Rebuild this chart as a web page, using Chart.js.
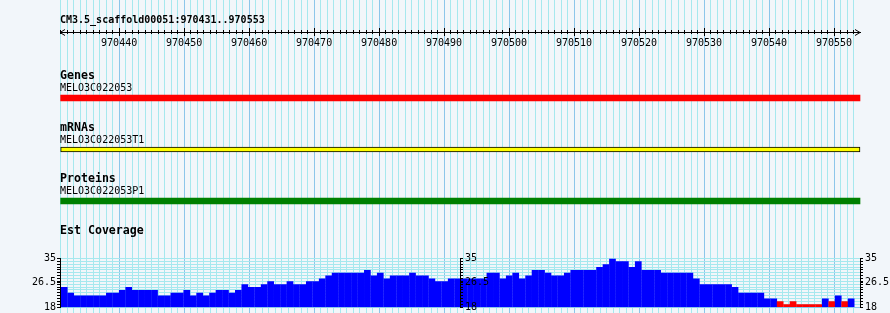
<!DOCTYPE html>
<html><head><meta charset="utf-8">
<script src="https://cdn.jsdelivr.net/npm/chart.js@4/dist/chart.umd.min.js"></script>
<style>
html,body{margin:0;padding:0;background:#F2F6FA;width:890px;height:313px;overflow:hidden;position:relative;}
canvas{position:absolute;left:0;top:0;}
</style></head><body>
<canvas id="bg" width="890" height="313"></canvas>
<canvas id="t0" width="890" height="313"></canvas>
<canvas id="t1" width="890" height="313"></canvas>
<canvas id="t2" width="890" height="313"></canvas>
<canvas id="cov" width="890" height="320"></canvas>
<canvas id="axL" width="890" height="320"></canvas>
<canvas id="axM" width="890" height="320"></canvas>
<canvas id="axR" width="890" height="320"></canvas>
<canvas id="rulerMinor" width="890" height="60"></canvas>
<canvas id="rulerMajor" width="890" height="60"></canvas>
<script>
// ---------------- data ----------------
const SEQ_NAME = 'CM3.5_scaffold00051';
const VIEW_START = 970431;
const VIEW_END = 970553;
const RULER_LABEL_STEP = 10;
const TRACK_NAMES = ['Genes', 'mRNAs', 'Proteins', 'Est Coverage'];
const FEATURE_NAMES = ['MELO3C022053', 'MELO3C022053T1', 'MELO3C022053P1'];
const FEATURE_STARTS = [970431, 970431, 970431];
const FEATURE_ENDS = [970553, 970553, 970553];
// EST coverage, one value per base from VIEW_START
const COVERAGE = [
  25,23,22,22,22,22,22,23,23,24,
  25,24,24,24,24,22,22,23,23,24,
  22,23,22,23,24,24,23,24,26,25,
  25,26,27,26,26,27,26,26,27,27,
  28,29,30,30,30,30,30,31,29,30,
  28,29,29,29,30,29,29,28,27,27,
  28,28,28,28,28,28,30,30,28,29,
  30,28,29,31,31,30,29,29,30,31,
  31,31,31,32,33,35,34,34,32,34,
  31,31,31,30,30,30,30,30,28,26,
  26,26,26,26,25,23,23,23,23,21,
  21,20,19,20,19,19,19,19,21,20,
  22,20,21
];
const COV_Y_MIN = 18;
const COV_Y_MAX = 35;
const COV_Y_LABELS = [18, 26.5, 35];
const LOW_COVERAGE_MAX = 20;

// ---------------- layout / style ----------------
const W = 890, H = 313;
const PLOT_L = 60, PLOT_R = 860, MID_AXIS_X = 460;
const MONO = "'DejaVu Sans Mono', monospace";
const GRID_MINOR = '#A6E8EE';
const GRID_MAJOR = '#8CC6EA';
const BLACK = '#000000';
const FEATURE_COLORS = ['#FF0000', '#FFFF00', '#008000'];
const FEATURE_BORDERS = [null, '#000000', null];
const BAR_TOPS = [95, 147, 198];
const BAR_BOTTOMS = [101, 152, 204];
const COV_TOP = 258.5, COV_BOTTOM = 307, COV_CANVAS_H = 320;
const NAME_SIZE = 11.6, SUB_SIZE = 10;
const SCALE_MIN = VIEW_START - 0.1, SCALE_MAX = VIEW_END + 1;
const COV_X_MIN = VIEW_START - 0.655, COV_X_MAX = VIEW_END + 1.376;

Chart.defaults.font.family = MONO;
Chart.defaults.color = BLACK;

function bpTicks(step) {
  const t = [];
  for (let v = VIEW_START; v <= VIEW_END; v++) if (v % step === 0) t.push({value: v});
  return t;
}
function covTicks() {
  const s = new Set(COV_Y_LABELS);
  for (let v = COV_Y_MIN; v <= COV_Y_MAX; v++) s.add(v);
  return [...s].sort((a, b) => a - b).map(v => ({value: v}));
}
const base = {responsive: false, animation: false, events: [], maintainAspectRatio: false};
const noPlugins = {legend: {display: false}, tooltip: {enabled: false}};

// ---------------- background grid ----------------
new Chart(document.getElementById('bg'), {
  type: 'scatter',
  data: {datasets: []},
  options: Object.assign({}, base, {
    layout: {padding: {left: PLOT_L, right: W - PLOT_R, top: 0, bottom: 0}},
    plugins: noPlugins,
    scales: {
      x: {type: 'linear', min: SCALE_MIN, max: SCALE_MAX, bounds: 'data',
          afterBuildTicks: s => { s.ticks = bpTicks(1); },
          ticks: {display: false, autoSkip: false},
          grid: {drawTicks: false, lineWidth: 1,
                 color: c => (c.tick && c.tick.value % RULER_LABEL_STEP === 0) ? GRID_MAJOR : GRID_MINOR},
          border: {display: false}},
      y: {display: false, min: 0, max: 1}
    }
  })
});

// ---------------- feature tracks ----------------
function trackChart(idx) {
  const barTop = BAR_TOPS[idx], barBottom = BAR_BOTTOMS[idx];
  const nameMid = barTop - 18.6, subMid = barTop - 7.0;
  const border = FEATURE_BORDERS[idx];
  new Chart(document.getElementById('t' + idx), {
    type: 'bar',
    data: {labels: [FEATURE_NAMES[idx]], datasets: [{
      data: [[FEATURE_STARTS[idx], FEATURE_ENDS[idx] + 1]],
      backgroundColor: FEATURE_COLORS[idx],
      borderColor: border || FEATURE_COLORS[idx],
      borderWidth: border ? 1 : 0,
      borderSkipped: false,
      barPercentage: 1, categoryPercentage: 1, clip: false
    }]},
    options: Object.assign({}, base, {
      indexAxis: 'y',
      layout: {padding: {left: PLOT_L, right: W - PLOT_R, top: nameMid - NAME_SIZE / 2, bottom: H - barBottom}},
      plugins: Object.assign({}, noPlugins, {
        title: {display: true, text: TRACK_NAMES[idx], align: 'start', color: BLACK,
                font: {family: MONO, size: NAME_SIZE, weight: 'bold', lineHeight: 1},
                padding: {top: 0, bottom: (subMid - SUB_SIZE / 2) - (nameMid + NAME_SIZE / 2)}},
        subtitle: {display: true, text: FEATURE_NAMES[idx], align: 'start', color: BLACK,
                font: {family: MONO, size: SUB_SIZE, lineHeight: 1},
                padding: {top: 0, bottom: barTop - (subMid + SUB_SIZE / 2)}}
      }),
      scales: {
        x: {type: 'linear', min: SCALE_MIN, max: SCALE_MAX, display: false},
        y: {type: 'category', display: false}
      }
    })
  });
}
[0, 1, 2].forEach(trackChart);

// ---------------- coverage ----------------
const covNameMid = 231.4;
new Chart(document.getElementById('cov'), {
  type: 'bar',
  data: {datasets: [{
    data: COVERAGE.map((v, i) => ({x: VIEW_START + i, y: v})),
    backgroundColor: c => (c.raw && c.raw.y <= LOW_COVERAGE_MAX) ? '#FF0000' : '#0000FF',
    borderWidth: 0, barPercentage: 1.04, categoryPercentage: 1
  }]},
  options: Object.assign({}, base, {
    layout: {padding: {left: PLOT_L, right: W - PLOT_R, top: covNameMid - NAME_SIZE / 2, bottom: COV_CANVAS_H - COV_BOTTOM}},
    plugins: Object.assign({}, noPlugins, {
      title: {display: true, text: TRACK_NAMES[3], align: 'start', color: BLACK,
              font: {family: MONO, size: NAME_SIZE, weight: 'bold', lineHeight: 1},
              padding: {top: 0, bottom: COV_TOP - (covNameMid + NAME_SIZE / 2)}}
    }),
    scales: {
      x: {type: 'linear', min: COV_X_MIN, max: COV_X_MAX, offset: false, bounds: 'data',
          ticks: {display: false}, grid: {display: true, drawOnChartArea: false, drawTicks: false},
          border: {display: true, color: GRID_MAJOR, width: 1, z: 1}},
      y: {type: 'linear', position: 'left', min: COV_Y_MIN, max: COV_Y_MAX, beginAtZero: false,
          afterBuildTicks: s => { s.ticks = covTicks(); },
          afterFit: s => { s.width = 0; },
          ticks: {display: false},
          grid: {drawTicks: false,
                 color: c => (c.tick && Number.isInteger(c.tick.value)) ? GRID_MINOR : 'rgba(0,0,0,0)'},
          border: {display: false}}
    }
  })
});

// coverage axes (left, middle, right)
function covAxis(id, position, axisX, labelPad) {
  const AXW = 30;
  const pad = position === 'left'
    ? {left: axisX - AXW, right: 0}
    : {left: 0, right: W - axisX - AXW};
  new Chart(document.getElementById(id), {
    type: 'scatter',
    data: {datasets: []},
    options: Object.assign({}, base, {
      layout: {padding: {left: pad.left, right: pad.right, top: COV_TOP, bottom: COV_CANVAS_H - COV_BOTTOM}},
      plugins: noPlugins,
      scales: {
        x: {display: false, min: 0, max: 1},
        y: {type: 'linear', position: position, min: COV_Y_MIN, max: COV_Y_MAX,
            afterBuildTicks: s => { s.ticks = covTicks(); },
            afterFit: s => { s.width = AXW; },
            ticks: {display: true, autoSkip: false, padding: labelPad, color: BLACK,
                    font: {family: MONO, size: 10},
                    callback: v => COV_Y_LABELS.includes(v) ? String(v) : ''},
            grid: {drawOnChartArea: false, tickLength: 3, tickColor: BLACK, color: BLACK},
            border: {display: true, color: BLACK}}
      }
    })
  });
}
covAxis('axL', 'left', PLOT_L, 1);
covAxis('axM', 'right', MID_AXIS_X, 2);
covAxis('axR', 'right', PLOT_R, 2);

// ---------------- ruler ----------------
const RULER_Y = 32, RULER_H = 60;
const titleMid = 20.8;
new Chart(document.getElementById('rulerMinor'), {
  type: 'scatter',
  data: {datasets: []},
  options: Object.assign({}, base, {
    layout: {padding: {left: PLOT_L, right: W - PLOT_R, top: titleMid - 5, bottom: RULER_H - RULER_Y - 2}},
    plugins: Object.assign({}, noPlugins, {
      title: {display: true, text: SEQ_NAME + ':' + VIEW_START + '..' + VIEW_END, align: 'start', color: BLACK,
              font: {family: MONO, size: 10, lineHeight: 1},
              padding: {top: 0, bottom: (RULER_Y - 2) - (titleMid + 5)}}
    }),
    scales: {
      x: {type: 'linear', min: SCALE_MIN, max: SCALE_MAX, bounds: 'data', position: 'bottom',
          afterBuildTicks: s => { s.ticks = bpTicks(1); },
          ticks: {display: false, autoSkip: false},
          grid: {color: BLACK, tickLength: 2, drawOnChartArea: true},
          border: {display: true, color: BLACK}},
      y: {display: false, min: 0, max: 1}
    }
  })
});

function chevron(dir) {
  const c = document.createElement('canvas');
  c.width = 12; c.height = 10;
  const g = c.getContext('2d');
  g.strokeStyle = '#000'; g.lineWidth = 1;
  g.beginPath();
  if (dir < 0) { g.moveTo(11, 2.5); g.lineTo(6, 5.5); g.lineTo(11, 8.5); }
  else { g.moveTo(1, 2.5); g.lineTo(6, 5.5); g.lineTo(1, 8.5); }
  g.stroke();
  return c;
}
const arrowL = chevron(-1), arrowR = chevron(1);

// major ruler: an empty spacer title pushes the chart area down so the axis is not height-capped
const MAJOR_TICK = 4, LABEL_PAD = 1, LABEL_LH = 12;
const majorAxisH = MAJOR_TICK + LABEL_LH + 2 * LABEL_PAD;
new Chart(document.getElementById('rulerMajor'), {
  type: 'scatter',
  data: {datasets: [{
    data: [{x: SCALE_MIN, y: 0}, {x: SCALE_MAX, y: 0}],
    pointStyle: c => c.dataIndex === 0 ? arrowL : arrowR,
    clip: false, showLine: false
  }]},
  options: Object.assign({}, base, {
    layout: {padding: {left: PLOT_L, right: W - PLOT_R, top: 0, bottom: RULER_H - RULER_Y - majorAxisH}},
    plugins: Object.assign({}, noPlugins, {
      title: {display: true, text: '', font: {size: 1, lineHeight: 1},
              padding: {top: RULER_Y - MAJOR_TICK - 1, bottom: 0}}
    }),
    scales: {
      x: {type: 'linear', min: SCALE_MIN, max: SCALE_MAX, bounds: 'data', position: 'bottom',
          afterBuildTicks: s => { s.ticks = bpTicks(RULER_LABEL_STEP); },
          ticks: {display: true, autoSkip: false, maxRotation: 0, minRotation: 0, padding: LABEL_PAD,
                  color: BLACK, font: {family: MONO, size: 10, lineHeight: 1.2}, callback: v => String(v)},
          grid: {color: BLACK, tickLength: MAJOR_TICK, drawOnChartArea: true},
          border: {display: true, color: BLACK}},
      y: {display: false, min: 0, max: 1}
    }
  })
});
</script>
</body></html>
